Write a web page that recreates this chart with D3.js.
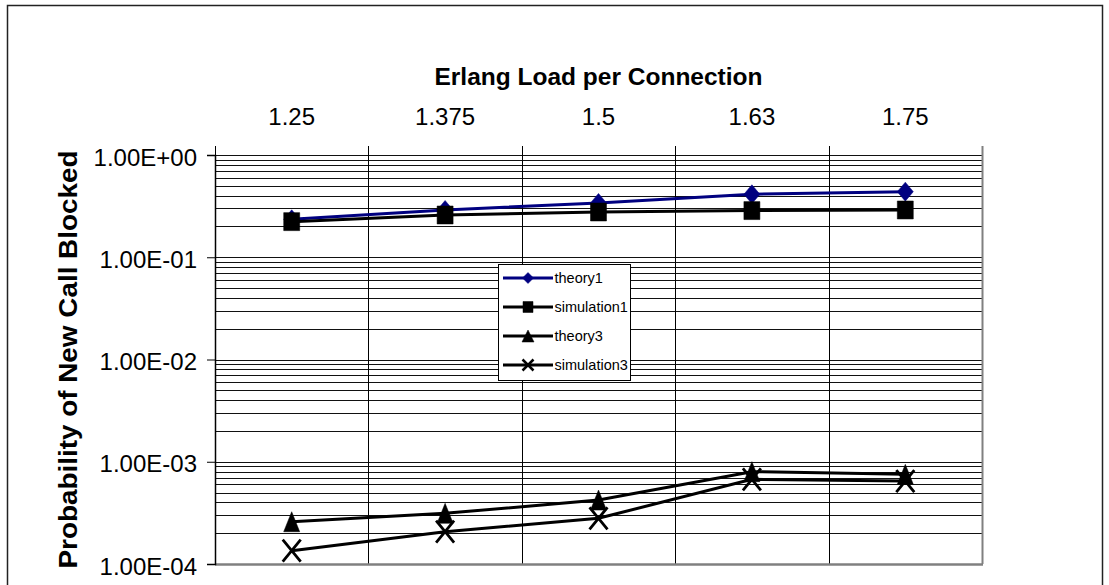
<!DOCTYPE html>
<html>
<head>
<meta charset="utf-8">
<script src="https://cdn.jsdelivr.net/npm/d3@7"></script>
<style>
  body { margin: 0; background: #fff; }
  text { font-family: "Liberation Sans", Arial, sans-serif; }
</style>
</head>
<body>
<div class="container"></div>
<script>
const WIDTH = 1109;
const HEIGHT = 585;

// chart values
const categories = ["1.25", "1.375", "1.5", "1.63", "1.75"];
const theory1 = [0.235, 0.29, 0.34, 0.413, 0.438];
const simulation1 = [0.223, 0.259, 0.277, 0.286, 0.29];
const theory3 = [2.59e-4, 3.13e-4, 4.22e-4, 8.0e-4, 7.53e-4];
const simulation3 = [1.35e-4, 2.07e-4, 2.8e-4, 6.73e-4, 6.48e-4];
const yTicks = [1e-4, 1e-3, 1e-2, 1e-1, 1];
const seriesNames = ["theory1", "simulation1", "theory3", "simulation3"];

const plot = { left: 215, right: 982, top: 155, bottom: 564 };

// marker shapes (w/h are half sizes)
var diamond = function (w, h) {
    return { draw: function (ctx) {
        ctx.moveTo(0, -h); ctx.lineTo(w, 0); ctx.lineTo(0, h); ctx.lineTo(-w, 0); ctx.closePath();
    } };
};
var square = function (w, h) {
    return { draw: function (ctx) { ctx.rect(-w, -h, 2 * w, 2 * h); } };
};
var triangle = function (w, h) {
    return { draw: function (ctx) {
        ctx.moveTo(0, -h); ctx.lineTo(w, h); ctx.lineTo(-w, h); ctx.closePath();
    } };
};
var cross = function (w, h) {
    return { draw: function (ctx) {
        ctx.moveTo(-w, -h); ctx.lineTo(w, h); ctx.moveTo(w, -h); ctx.lineTo(-w, h);
    } };
};

var series = [
    { name: seriesNames[0], values: theory1, color: "#000080", shape: diamond, big: [8, 9.5], small: [5.5, 5.5], fill: true },
    { name: seriesNames[1], values: simulation1, color: "#000", shape: square, big: [8, 9], small: [5, 5.5], fill: true },
    { name: seriesNames[2], values: theory3, color: "#000", shape: triangle, big: [8, 10], small: [6, 6], fill: true },
    { name: seriesNames[3], values: simulation3, color: "#000", shape: cross, big: [9, 11], small: [5.5, 5.5], fill: false }
];

var svg = d3.select(".container")
    .append("svg")
    .attr("width", WIDTH)
    .attr("height", HEIGHT);

// outer chart border
svg.append("rect")
    .attr("x", 7.5).attr("y", 5.5)
    .attr("width", 1095).attr("height", 620)
    .attr("fill", "none")
    .attr("stroke", "#222")
    .attr("stroke-width", 1.5);

var xScale = d3.scaleBand()
    .domain(categories)
    .range([plot.left, plot.right]);

var yScale = d3.scaleLog()
    .domain([1e-4, 1])
    .range([plot.bottom, plot.top]);

// horizontal grid lines, majors and minors
var gridVals = [];
for (var e = -4; e < 0; e++) {
    for (var k = 1; k <= 9; k++) gridVals.push(k * Math.pow(10, e));
}
gridVals.push(1);

svg.append("g").selectAll("line")
    .data(gridVals)
    .enter().append("line")
    .attr("x1", plot.left).attr("x2", plot.right)
    .attr("y1", function (d) { return Math.round(yScale(d)) + 0.5; })
    .attr("y2", function (d) { return Math.round(yScale(d)) + 0.5; })
    .attr("stroke", "#111")
    .attr("stroke-width", 1);

// vertical grid lines at category boundaries, with ticks above the plot
var bounds = categories.map(function (c) { return xScale(c); }).concat([plot.right]);
svg.append("g").selectAll("line")
    .data(bounds)
    .enter().append("line")
    .attr("x1", function (d) { return Math.round(d) + 0.5; })
    .attr("x2", function (d) { return Math.round(d) + 0.5; })
    .attr("y1", plot.top - 9)
    .attr("y2", plot.bottom)
    .attr("stroke", function (d, i) { return i === bounds.length - 1 ? "#808080" : "#000"; })
    .attr("stroke-width", function (d, i) { return i === bounds.length - 1 ? 2 : 1; });

// bottom edge
svg.append("line")
    .attr("x1", plot.left).attr("x2", plot.right + 1)
    .attr("y1", plot.bottom + 0.5).attr("y2", plot.bottom + 0.5)
    .attr("stroke", "#808080").attr("stroke-width", 2.5);

// left axis
var fmt = function (d) {
    var ex = Math.round(Math.log10(d));
    return "1.00E" + (ex < 0 ? "-" : "+") + String(Math.abs(ex)).padStart(2, "0");
};
var yAxis = svg.append("g")
    .attr("transform", "translate(" + plot.left + ",0)")
    .call(d3.axisLeft(yScale).tickValues(yTicks).tickFormat(fmt).tickSize(8).tickPadding(10));
yAxis.select(".domain").attr("stroke", "#000").attr("stroke-width", 1.5);
yAxis.selectAll(".tick line").attr("stroke", "#000");
yAxis.selectAll("text")
    .attr("dy", "0.42em")
    .attr("font-size", "24px")
    .attr("font-family", "Liberation Sans, Arial, sans-serif")
    .attr("fill", "#000");

// top axis labels
var xAxis = svg.append("g")
    .attr("transform", "translate(0," + plot.top + ")")
    .call(d3.axisTop(xScale).tickSize(0).tickPadding(30));
xAxis.select(".domain").remove();
xAxis.selectAll("text")
    .attr("font-size", "24px")
    .attr("font-family", "Liberation Sans, Arial, sans-serif")
    .attr("fill", "#000");

// titles
svg.append("text")
    .attr("x", (plot.left + plot.right) / 2)
    .attr("y", 85)
    .attr("text-anchor", "middle")
    .attr("font-size", "24.5px")
    .attr("font-weight", "bold")
    .text("Erlang Load per Connection");

svg.append("text")
    .attr("transform", "translate(77," + ((plot.top + plot.bottom) / 2) + ") rotate(-90)")
    .attr("text-anchor", "middle")
    .attr("font-size", "25px")
    .attr("font-weight", "bold")
    .attr("textLength", 418)
    .attr("lengthAdjust", "spacingAndGlyphs")
    .text("Probability of New Call Blocked");

// series lines and markers
var line = d3.line()
    .x(function (d, i) { return xScale(categories[i]) + xScale.bandwidth() / 2; })
    .y(function (d) { return yScale(d); });

series.forEach(function (s) {
    var g = svg.append("g");
    g.append("path")
        .attr("d", line(s.values))
        .attr("fill", "none")
        .attr("stroke", s.color)
        .attr("stroke-width", 3);
    g.selectAll("path.mark")
        .data(s.values)
        .enter().append("path")
        .attr("class", "mark")
        .attr("transform", function (d, i) {
            return "translate(" + (xScale(categories[i]) + xScale.bandwidth() / 2) + "," + yScale(d) + ")";
        })
        .attr("d", d3.symbol().type(s.shape(s.big[0], s.big[1]))())
        .attr("fill", s.fill ? s.color : "none")
        .attr("stroke", s.color)
        .attr("stroke-width", s.fill ? 0.5 : 2.8);
});

// legend
var legend = svg.append("g").attr("transform", "translate(498.5,264.5)");
legend.append("rect")
    .attr("width", 132).attr("height", 116)
    .attr("fill", "#fff")
    .attr("stroke", "#000")
    .attr("stroke-width", 1);

var rows = legend.selectAll("g.row")
    .data(series)
    .enter().append("g")
    .attr("class", "row")
    .attr("transform", function (d, i) { return "translate(0," + (13.5 + i * 29) + ")"; });
rows.append("line")
    .attr("x1", 4.5).attr("x2", 54.5)
    .attr("stroke", function (d) { return d.color; })
    .attr("stroke-width", 3);
rows.append("path")
    .attr("transform", "translate(29.5,0)")
    .attr("d", function (d) { return d3.symbol().type(d.shape(d.small[0], d.small[1]))(); })
    .attr("fill", function (d) { return d.fill ? d.color : "none"; })
    .attr("stroke", function (d) { return d.color; })
    .attr("stroke-width", function (d) { return d.fill ? 0.5 : 2.5; });
rows.append("text")
    .attr("x", 56)
    .attr("dy", "0.36em")
    .attr("font-size", "14.5px")
    .attr("fill", "#000")
    .text(function (d) { return d.name; });
</script>
</body>
</html>
